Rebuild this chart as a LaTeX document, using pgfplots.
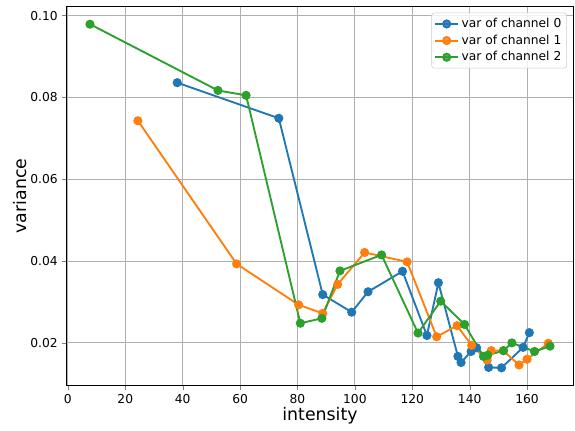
\documentclass[border=0pt]{standalone}
\usepackage{fontspec}
\setmainfont{DejaVu Sans}
\usepackage{pgfplots}
\pgfplotsset{compat=1.18}
\definecolor{c0}{HTML}{1F77B4}
\definecolor{c1}{HTML}{FF7F0E}
\definecolor{c2}{HTML}{2CA02C}
\begin{document}
\begin{tikzpicture}
  % variance per channel against intensity
  \begin{axis}[
      scale only axis,
      width=379.5pt, height=283.5pt,
      xmin=-0.3, xmax=176,
      ymin=0.0097, ymax=0.1021,
      xtick={0,20,...,160},
      ytick={0.02,0.04,0.06,0.08,0.10},
      yticklabel style={/pgf/number format/.cd, fixed, fixed zerofill, precision=2},
      /pgf/number format/assume math mode=true,
      scaled y ticks=false,
      tick align=outside,
      tick pos=left,
      major tick length=3.5pt,
      tick label style={font=\fontsize{9.2}{10}\selectfont},
      xlabel={intensity},
      ylabel={variance},
      label style={font=\fontsize{13}{14}\selectfont},
      xlabel style={at={(axis description cs:0.5,-0.082)}, anchor=center},
      ylabel style={at={(axis description cs:-0.093,0.5)}, anchor=center},
      grid=major,
      grid style={color=black!31, line width=0.7pt},
      axis line style={line width=0.75pt},
      legend style={font=\fontsize{9.2}{11}\selectfont, draw=black!20, rounded corners=2pt,
        fill=white, fill opacity=0.8, text opacity=1, inner sep=2pt,
        at={(0.988,0.985)}, anchor=north east},
      legend cell align=left,
      every axis plot/.append style={line width=1.4pt, mark=*, mark size=2.7pt},
    ]
    \addplot[c0, mark options={fill=c0, draw=c0}] coordinates {
      (38.1,0.0836) (73.5,0.0749) (88.8,0.0318) (98.9,0.0275)
      (104.6,0.0325) (116.6,0.0375) (125.1,0.0218) (129.1,0.0347)
      (135.9,0.0167) (137.0,0.0152) (140.5,0.0179) (142.4,0.0188)
      (146.6,0.0140) (151.1,0.0139) (158.6,0.0189) (160.8,0.0225)
    };
    \addlegendentry{var of channel 0}
    \addplot[c1, mark options={fill=c1, draw=c1}] coordinates {
      (24.4,0.0743) (58.8,0.0393) (80.4,0.0293) (88.8,0.0272)
      (94.0,0.0343) (103.4,0.0421) (118.2,0.0398) (128.5,0.0215)
      (135.6,0.0242) (140.7,0.0194) (146.1,0.0158) (147.5,0.0181)
      (151.7,0.0181) (157.2,0.0146) (160.0,0.0160) (167.4,0.0199)
    };
    \addlegendentry{var of channel 1}
    \addplot[c2, mark options={fill=c2, draw=c2}] coordinates {
      (7.7,0.0979) (52.3,0.0817) (62.1,0.0805) (81.0,0.0248)
      (88.5,0.0260) (94.8,0.0376) (109.3,0.0415) (122.0,0.0224)
      (129.9,0.0302) (138.2,0.0245) (144.8,0.0167) (146.3,0.0170)
      (151.8,0.0181) (154.7,0.0200) (162.6,0.0179) (168.0,0.0192)
    };
    \addlegendentry{var of channel 2}
  \end{axis}
  \path ([shift={(-50.25pt,-33.75pt)}]current axis.south west)
    rectangle ([shift={(1.5pt,5.25pt)}]current axis.north east);
\end{tikzpicture}
\end{document}
